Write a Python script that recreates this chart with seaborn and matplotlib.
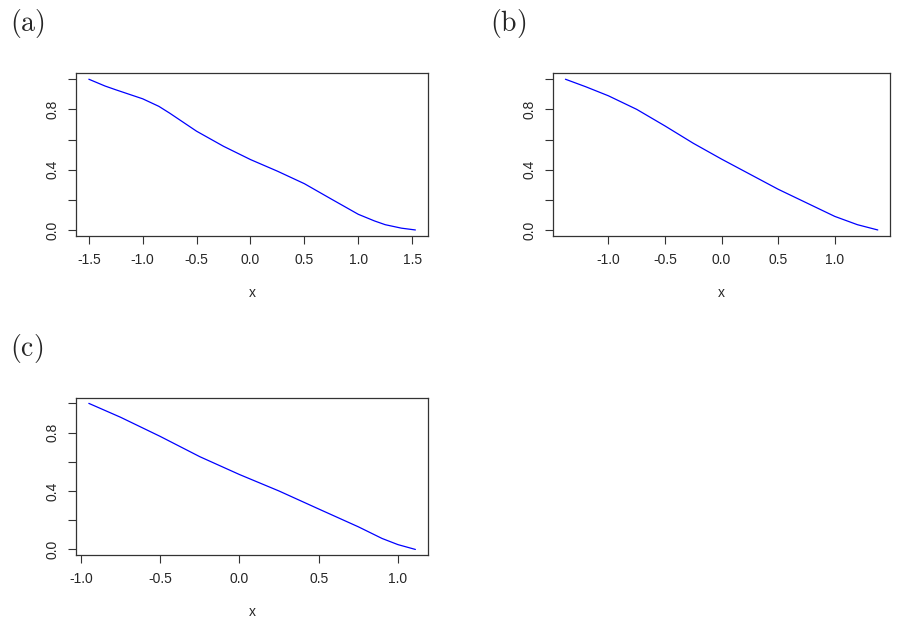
"""Three stacked-panel curves in R base-graphics style."""

import matplotlib

matplotlib.use("Agg")

import matplotlib.pyplot as plt
import pandas as pd
import seaborn as sns

x_a = [-1.5, -1.35, -1.25, -1.0, -0.85, -0.75, -0.5, -0.25, 0.0, 0.25, 0.5, 0.75, 1.0, 1.15, 1.25, 1.4, 1.53]
y_a = [1.0, 0.955, 0.93, 0.87, 0.82, 0.775, 0.655, 0.555, 0.467, 0.39, 0.307, 0.205, 0.104, 0.06, 0.035, 0.012, 0.0]

x_b = [-1.38, -1.2, -1.0, -0.75, -0.5, -0.25, 0.0, 0.25, 0.5, 0.75, 1.0, 1.2, 1.38]
y_b = [1.0, 0.95, 0.89, 0.80, 0.69, 0.575, 0.47, 0.37, 0.27, 0.18, 0.09, 0.035, 0.0]

x_c = [-0.95, -0.75, -0.5, -0.25, 0.0, 0.25, 0.5, 0.75, 0.9, 1.0, 1.11]
y_c = [1.0, 0.905, 0.774, 0.635, 0.513, 0.40, 0.277, 0.155, 0.075, 0.033, 0.0]

xticks_a = [-1.5, -1.0, -0.5, 0.0, 0.5, 1.0, 1.5]
xticks_b = [-1.0, -0.5, 0.0, 0.5, 1.0]
xticks_c = [-1.0, -0.5, 0.0, 0.5, 1.0]
yticks = [0.0, 0.2, 0.4, 0.6, 0.8, 1.0]

sns.set_style("white")
plt.rcParams["font.family"] = ["Liberation Sans", "DejaVu Sans"]
plt.rcParams["mathtext.fontset"] = "cm"

fig = plt.figure(figsize=(9.02, 6.31), dpi=100)

panels = [
    ("(a)", x_a, y_a, xticks_a, [0.084, 0.626, 0.391, 0.258], (0.011, 0.962)),
    ("(b)", x_b, y_b, xticks_b, [0.613, 0.626, 0.374, 0.258], (0.543, 0.962)),
    ("(c)", x_c, y_c, xticks_c, [0.084, 0.12, 0.391, 0.25], (0.011, 0.448)),
]

for tag, xs, ys, xticks, rect, tag_pos in panels:
    ax = fig.add_axes(rect)
    df = pd.DataFrame({"x": xs, "y": ys})
    sns.lineplot(data=df, x="x", y="y", ax=ax, color="blue", linewidth=0.9)
    span = xs[-1] - xs[0]
    ax.set_xlim(xs[0] - 0.04 * span, xs[-1] + 0.04 * span)
    ax.set_ylim(-0.04, 1.04)
    ax.set_xticks(xticks)
    ax.set_xticklabels([f"{t:.1f}" for t in xticks])
    ax.set_yticks(yticks)
    ax.set_yticklabels([f"{t:.1f}" if i % 2 == 0 else "" for i, t in enumerate(yticks)],
                       rotation=90, va="center")
    ax.tick_params(direction="out", length=6, width=0.8, color="#333333",
                   labelsize=10, pad=6, bottom=True, left=True)
    for spine in ax.spines.values():
        spine.set_color("#333333")
        spine.set_linewidth(0.9)
    ax.set_xlabel("x", fontsize=10, labelpad=14)
    ax.set_ylabel("")
    fig.text(tag_pos[0], tag_pos[1], r"$\mathrm{" + tag + "}$", fontsize=20, va="center")

fig.savefig("out.png", dpi=100)
